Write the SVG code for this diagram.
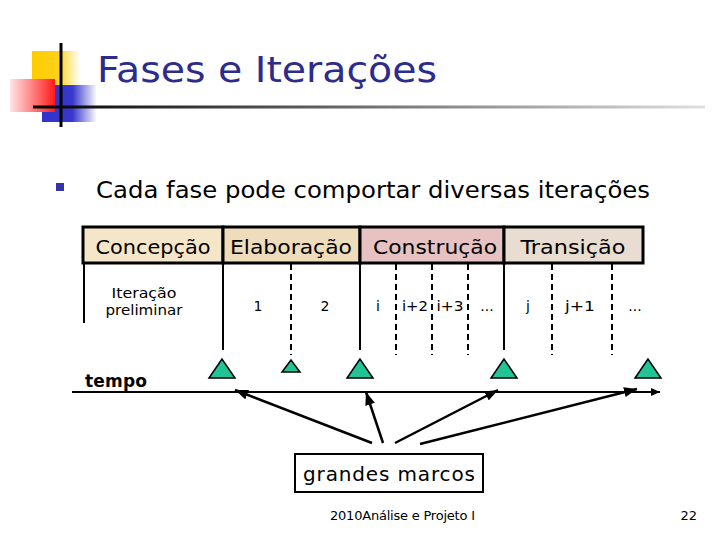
<svg xmlns="http://www.w3.org/2000/svg" width="720" height="540" viewBox="0 0 720 540">
<defs>
  <linearGradient id="gY" x1="0" y1="0" x2="1" y2="0"><stop offset="0" stop-color="#ffcc00"/><stop offset="0.55" stop-color="#ffd21a"/><stop offset="1" stop-color="#ffffff"/></linearGradient>
  <linearGradient id="gR" x1="0" y1="0" x2="1" y2="0"><stop offset="0" stop-color="#ffe6e6"/><stop offset="1" stop-color="#ff1a1a"/></linearGradient>
  <linearGradient id="gB" x1="0" y1="0" x2="1" y2="0"><stop offset="0" stop-color="#3333cc"/><stop offset="0.55" stop-color="#3838cc"/><stop offset="1" stop-color="#ffffff"/></linearGradient>
  <linearGradient id="gL" x1="0" y1="0" x2="1" y2="0"><stop offset="0" stop-color="#000000"/><stop offset="1" stop-color="#e0e0e0"/></linearGradient>
  <marker id="ah" markerUnits="userSpaceOnUse" markerWidth="14" markerHeight="10" refX="13" refY="5" orient="auto"><path d="M0,0 L13,5 L0,10 Z" fill="#000"/></marker>
  <marker id="ahs" markerUnits="userSpaceOnUse" markerWidth="10" markerHeight="8" refX="9" refY="4" orient="auto"><path d="M0,0 L9,4 L0,8 Z" fill="#000"/></marker>
</defs>
<style>
  .hdr{stroke:#000;stroke-width:3}
  .ht{font-family:"DejaVu Sans",Verdana,sans-serif;font-size:20px;fill:#000;text-anchor:middle}
  .it{font-family:"DejaVu Sans",Verdana,sans-serif;font-size:14px;fill:#000;text-anchor:middle}
  .sol{stroke:#000;stroke-width:2;fill:none}
  .dsh{stroke:#000;stroke-width:2;fill:none;stroke-dasharray:6 4}
  .tri{fill:#22c497;stroke:#000;stroke-width:1.5}
  .con{stroke:#000;stroke-width:2.5;fill:none;marker-end:url(#ah)}
</style>
<rect width="720" height="540" fill="#fff"/>
<g id="title">
  <rect x="32" y="51" width="48" height="34" fill="url(#gY)"/>
  <rect x="42" y="85" width="55" height="37" fill="url(#gB)"/>
  <rect x="10" y="79" width="45" height="33" fill="url(#gR)"/>
  <line x1="61" y1="43" x2="61" y2="127" stroke="#000" stroke-width="3"/>
  <rect x="33" y="105.5" width="672" height="3" fill="url(#gL)"/>
  <text x="97" y="82" font-family="DejaVu Sans, Verdana, sans-serif" font-size="36" fill="#2c2c8c" textLength="340" lengthAdjust="spacingAndGlyphs">Fases e Iterações</text>
</g>
<g id="bullet">
  <rect x="56" y="183" width="8" height="8" fill="#3333aa"/>
  <text x="96" y="198" font-family="DejaVu Sans, Verdana, sans-serif" font-size="23" fill="#000" textLength="554" lengthAdjust="spacingAndGlyphs">Cada fase pode comportar diversas iterações</text>
</g>
<g id="concepcao">
  <rect x="83" y="227" width="140" height="36" fill="#f6e6c9" class="hdr"/>
  <text x="153" y="254" class="ht" textLength="115" lengthAdjust="spacingAndGlyphs">Concepção</text>
</g>
<g id="elaboracao">
  <rect x="223" y="227" width="137" height="36" fill="#efdcbb" class="hdr"/>
  <text x="291" y="254" class="ht" textLength="122" lengthAdjust="spacingAndGlyphs">Elaboração</text>
</g>
<g id="construcao">
  <rect x="360" y="227" width="144" height="36" fill="#e6c2c2" class="hdr"/>
  <text x="435" y="254" class="ht" textLength="124" lengthAdjust="spacingAndGlyphs">Construção</text>
</g>
<g id="transicao">
  <rect x="504" y="227" width="139" height="36" fill="#e8ddd0" class="hdr"/>
  <text x="573" y="254" class="ht" textLength="105" lengthAdjust="spacingAndGlyphs">Transição</text>
</g>
<g id="iterations">
  <line x1="84" y1="264" x2="84" y2="323" class="sol"/>
  <line x1="223" y1="264" x2="223" y2="350" class="sol"/>
  <line x1="291" y1="264" x2="291" y2="355" class="dsh"/>
  <line x1="360" y1="264" x2="360" y2="350" class="sol"/>
  <line x1="396" y1="264" x2="396" y2="355" class="dsh"/>
  <line x1="432" y1="264" x2="432" y2="355" class="dsh"/>
  <line x1="468" y1="264" x2="468" y2="355" class="dsh"/>
  <line x1="504" y1="264" x2="504" y2="350" class="sol"/>
  <line x1="552" y1="264" x2="552" y2="355" class="dsh"/>
  <line x1="612" y1="264" x2="612" y2="355" class="dsh"/>
  <text x="144" y="298" class="it" textLength="65" lengthAdjust="spacingAndGlyphs">Iteração</text>
  <text x="144" y="315" class="it" textLength="77" lengthAdjust="spacingAndGlyphs">preliminar</text>
  <text x="258" y="311" class="it">1</text>
  <text x="325" y="311" class="it">2</text>
  <text x="378" y="311" class="it">i</text>
  <text x="415" y="311" class="it" textLength="26" lengthAdjust="spacingAndGlyphs">i+2</text>
  <text x="450" y="311" class="it" textLength="27" lengthAdjust="spacingAndGlyphs">i+3</text>
  <text x="487" y="311" class="it">...</text>
  <text x="528" y="311" class="it">j</text>
  <text x="580" y="311" class="it" textLength="30" lengthAdjust="spacingAndGlyphs">j+1</text>
  <text x="635" y="311" class="it">...</text>
</g>
<g id="milestones">
  <polygon points="222,359 209,378 235,378" class="tri"/>
  <polygon points="291,360 282,372 300,372" class="tri"/>
  <polygon points="360,359 347,378 373,378" class="tri"/>
  <polygon points="504,359 491,378 517,378" class="tri"/>
  <polygon points="648,359 635,378 661,378" class="tri"/>
</g>
<g id="tempo">
  <text x="85" y="387" font-family="DejaVu Sans, Verdana, sans-serif" font-size="17" font-weight="bold" fill="#000" textLength="62">tempo</text>
</g>
<g id="connectors">
  <line x1="72" y1="392" x2="660" y2="392" stroke="#000" stroke-width="2" marker-end="url(#ahs)"/>
  <line x1="372" y1="443" x2="235" y2="390" class="con"/>
  <line x1="383" y1="443" x2="366" y2="392" class="con"/>
  <line x1="395" y1="443" x2="498" y2="390" class="con"/>
  <line x1="420" y1="444" x2="637" y2="389" class="con"/>
</g>
<g id="grandes_marcos">
  <rect x="295" y="454" width="188" height="38" fill="#fff" stroke="#000" stroke-width="2"/>
  <text x="389" y="481" font-family="DejaVu Sans, Verdana, sans-serif" font-size="20" fill="#000" text-anchor="middle" textLength="172">grandes marcos</text>
</g>
<g id="footer">
  <text x="330" y="520" font-family="DejaVu Sans, Tahoma, sans-serif" font-size="13" fill="#000" textLength="145">2010Análise e Projeto I</text>
  <text x="697" y="520" font-family="DejaVu Sans, Tahoma, sans-serif" font-size="13" fill="#000" text-anchor="end">22</text>
</g>
</svg>
